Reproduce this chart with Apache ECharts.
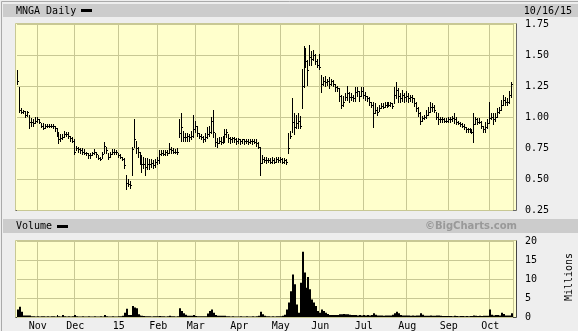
<!DOCTYPE html>
<html>
<head>
<meta charset="utf-8">
<script src="https://cdn.jsdelivr.net/npm/echarts@6/dist/echarts.min.js"></script>
<style>
html,body{margin:0;padding:0;background:#eeeeee;}
#chart{width:578px;height:331px;}
</style>
</head>
<body>
<div id="chart"></div>
<script>
// ---- calendar of trading days shown (category axis) ----
const startDate = '2014-10-20';
const endDate = '2015-10-16';
const holidays = ['2014-11-27','2014-12-25','2015-01-01','2015-01-19','2015-02-16',
                  '2015-04-03','2015-05-25','2015-07-03','2015-09-07'];
// tick labels indexed by month number (January shows the year)
const monthLabels = ['15','Feb','Mar','Apr','May','Jun','Jul','Aug','Sep','Oct','Nov','Dec'];
const priceTicks = [0.25, 0.50, 0.75, 1.00, 1.25, 1.50, 1.75];
const volumeTicks = [0, 5, 10, 15, 20];

// ---- daily prices (USD), one row per month ----
const high = [
  1.38,1.24,1.07,1.06,1.05,1.05,1.02,0.99,0.98,1.00,
  1.00,0.98,0.95,0.95,0.94,0.94,0.94,0.94,0.94,0.93,0.91,0.88,0.86,0.86,0.89,0.88,0.88,0.85,0.84,
  0.82,0.77,0.76,0.75,0.75,0.74,0.72,0.71,0.71,0.72,0.74,0.72,0.69,0.68,0.72,0.80,0.76,0.71,0.72,0.74,0.74,0.73,
  0.71,0.70,0.68,0.67,0.53,0.50,0.48,0.76,0.98,0.81,0.76,0.72,0.69,0.68,0.67,0.67,0.66,0.66,0.65,0.66,
  0.68,0.73,0.73,0.73,0.73,0.73,0.79,0.76,0.75,0.74,0.75,0.98,1.03,0.89,0.87,0.87,0.86,0.89,1.02,
  0.97,0.93,0.87,0.86,0.85,0.87,0.92,0.93,1.00,1.06,0.87,0.83,0.84,0.84,0.85,0.90,0.90,0.86,0.84,0.84,0.84,0.83,
  0.83,0.82,0.82,0.82,0.82,0.82,0.82,0.82,0.82,0.82,0.80,0.76,0.69,0.68,0.68,0.67,0.67,0.68,0.67,0.68,0.68,
  0.68,0.67,0.67,0.66,0.87,0.89,1.15,1.03,1.02,1.03,1.01,1.39,1.57,1.56,1.46,1.58,1.53,1.54,1.51,1.47,
  1.51,1.34,1.32,1.33,1.31,1.32,1.31,1.30,1.27,1.25,1.23,1.18,1.17,1.19,1.25,1.20,1.19,1.18,1.24,1.24,1.21,1.24,
  1.24,1.20,1.17,1.16,1.12,1.12,1.11,1.08,1.10,1.11,1.11,1.12,1.12,1.12,1.12,1.11,1.24,1.28,1.23,1.19,1.22,1.19,
  1.21,1.19,1.18,1.18,1.15,1.12,1.08,1.04,1.01,1.02,1.06,1.08,1.12,1.11,1.10,1.04,1.03,1.00,1.00,0.99,0.99,
  1.00,1.00,1.01,1.03,1.00,0.97,0.96,0.95,0.94,0.92,0.91,0.91,0.90,1.03,1.00,0.99,0.99,0.97,0.93,0.96,0.98,
  1.12,1.03,1.03,1.03,1.07,1.08,1.14,1.18,1.16,1.15,1.21,1.28
];
const low = [
  1.27,1.04,1.03,1.03,1.00,1.01,0.91,0.93,0.93,0.95,
  0.96,0.95,0.92,0.90,0.91,0.92,0.92,0.92,0.91,0.89,0.85,0.79,0.81,0.82,0.84,0.85,0.83,0.81,0.80,
  0.70,0.73,0.72,0.71,0.70,0.70,0.69,0.67,0.67,0.69,0.70,0.68,0.66,0.65,0.67,0.71,0.71,0.66,0.68,0.70,0.70,0.70,
  0.68,0.67,0.65,0.59,0.42,0.44,0.43,0.53,0.76,0.71,0.68,0.62,0.56,0.59,0.53,0.58,0.58,0.60,0.59,0.60,
  0.62,0.63,0.69,0.69,0.69,0.69,0.71,0.71,0.71,0.71,0.70,0.84,0.81,0.81,0.81,0.81,0.81,0.82,0.84,
  0.88,0.85,0.83,0.82,0.80,0.81,0.83,0.85,0.87,0.84,0.77,0.76,0.79,0.78,0.79,0.80,0.84,0.80,0.79,0.80,0.80,0.78,
  0.79,0.78,0.79,0.78,0.79,0.78,0.79,0.78,0.79,0.77,0.75,0.53,0.63,0.64,0.63,0.64,0.63,0.63,0.63,0.64,0.64,
  0.64,0.63,0.63,0.62,0.71,0.83,0.88,0.86,0.91,0.91,0.91,1.07,1.24,1.40,1.26,1.42,1.42,1.46,1.43,1.40,
  1.39,1.20,1.26,1.25,1.26,1.23,1.26,1.25,1.21,1.21,1.13,1.07,1.09,1.14,1.14,1.12,1.14,1.13,1.13,1.17,1.13,1.17,
  1.15,1.14,1.13,1.10,1.08,0.92,1.03,1.02,1.05,1.07,1.07,1.08,1.08,1.09,1.09,1.07,1.11,1.15,1.12,1.12,1.13,1.12,
  1.13,1.12,1.13,1.12,1.09,1.05,1.01,0.94,0.97,0.98,0.99,1.02,1.04,1.05,1.04,0.98,0.94,0.96,0.96,0.96,0.96,
  0.96,0.96,0.97,0.95,0.94,0.94,0.93,0.92,0.90,0.88,0.88,0.88,0.87,0.80,0.94,0.94,0.95,0.91,0.88,0.88,0.91,
  0.95,0.98,0.94,0.97,1.00,1.03,1.06,1.10,1.10,1.10,1.11,1.16
];
const close = [
  1.29,1.06,1.04,1.05,1.02,1.04,0.96,0.96,0.95,0.97,
  0.98,0.96,0.93,0.91,0.93,0.93,0.93,0.93,0.93,0.91,0.87,0.82,0.83,0.84,0.86,0.86,0.85,0.83,0.81,
  0.72,0.75,0.74,0.73,0.72,0.71,0.71,0.69,0.69,0.71,0.72,0.70,0.67,0.66,0.70,0.77,0.73,0.68,0.70,0.72,0.72,0.72,
  0.69,0.68,0.66,0.61,0.47,0.46,0.45,0.74,0.82,0.75,0.72,0.66,0.62,0.62,0.60,0.62,0.62,0.63,0.61,0.64,
  0.65,0.70,0.71,0.70,0.72,0.71,0.74,0.73,0.72,0.72,0.72,0.87,0.92,0.84,0.84,0.85,0.84,0.85,0.90,
  0.93,0.87,0.85,0.84,0.82,0.84,0.86,0.88,0.97,0.88,0.80,0.79,0.81,0.80,0.83,0.86,0.88,0.83,0.82,0.83,0.82,0.81,
  0.82,0.81,0.82,0.81,0.81,0.80,0.81,0.81,0.80,0.79,0.76,0.63,0.66,0.65,0.65,0.65,0.64,0.65,0.64,0.66,0.65,
  0.66,0.64,0.65,0.64,0.75,0.85,0.96,0.92,0.95,0.97,0.93,1.25,1.40,1.45,1.38,1.48,1.47,1.50,1.45,1.42,
  1.40,1.27,1.29,1.28,1.29,1.27,1.29,1.27,1.24,1.23,1.17,1.10,1.12,1.16,1.19,1.16,1.16,1.15,1.20,1.21,1.17,1.21,
  1.18,1.17,1.15,1.12,1.10,1.03,1.06,1.04,1.07,1.09,1.08,1.10,1.10,1.10,1.11,1.09,1.18,1.22,1.17,1.15,1.18,1.16,
  1.17,1.15,1.16,1.15,1.11,1.07,1.03,0.97,0.99,1.00,1.02,1.04,1.08,1.08,1.06,1.00,0.98,0.98,0.98,0.97,0.97,
  0.98,0.98,0.99,0.98,0.96,0.95,0.94,0.93,0.92,0.90,0.90,0.89,0.88,0.94,0.98,0.96,0.96,0.93,0.90,0.92,0.95,
  0.99,1.00,0.98,1.00,1.04,1.06,1.10,1.14,1.12,1.12,1.18,1.27
];
// ---- daily volume (millions of shares) ----
const volume = [
  2.0,2.7,1.4,0.4,0.4,0.4,0.4,0.2,0.2,0.15,
  0.2,0.15,0.2,0.2,0.15,0.2,0.15,0.2,0.2,0.15,0.5,0.2,0.15,0.5,0.2,0.15,0.2,0.15,0.2,
  0.5,0.2,0.15,0.15,0.2,0.15,0.15,0.2,0.15,0.15,0.2,0.15,0.15,0.2,0.15,0.5,0.2,0.15,0.15,0.2,0.15,0.15,
  0.2,0.2,0.3,1.1,2.2,0.5,0.5,2.9,2.5,2.3,0.7,0.4,0.3,0.25,0.2,0.2,0.2,0.15,0.2,0.2,
  0.2,0.25,0.2,0.2,0.15,0.2,0.3,0.2,0.2,0.15,0.2,2.3,1.6,1.0,0.6,0.3,0.3,0.3,0.5,
  0.25,0.2,0.2,0.2,0.2,0.2,0.9,1.6,2.0,1.1,0.5,0.3,0.3,0.3,0.3,0.3,0.2,0.2,0.15,0.2,0.15,0.15,
  0.15,0.2,0.15,0.15,0.2,0.15,0.15,0.2,0.15,0.2,0.3,1.4,0.7,0.3,0.2,0.2,0.15,0.2,0.15,0.2,0.2,
  0.2,0.3,0.6,2.0,3.8,6.8,11.2,8.6,3.3,1.1,9.0,17.2,11.7,7.7,10.5,7.3,4.6,3.8,2.9,1.6,
  1.1,2.0,1.6,1.1,0.8,0.5,0.5,0.5,0.5,0.5,0.7,0.7,0.8,0.7,0.7,0.6,0.5,0.5,0.5,0.4,0.5,0.4,
  0.5,0.4,0.5,0.4,0.5,1.0,0.6,0.4,0.4,0.4,0.3,0.4,0.4,0.4,0.4,0.6,1.0,1.4,1.0,0.5,0.4,0.4,
  0.4,0.4,0.3,0.4,0.3,0.4,0.4,1.0,0.6,0.3,0.3,0.3,0.4,0.3,0.3,0.4,0.4,0.3,0.25,0.25,0.25,
  0.25,0.25,0.2,0.3,0.25,0.2,0.25,0.25,0.2,0.25,0.2,0.25,0.25,0.4,0.3,0.25,0.3,0.25,0.3,0.3,0.3,
  2.0,0.6,0.4,0.5,0.5,0.4,1.1,0.8,0.4,0.4,0.4,1.0
];

// build the trading-day categories
const dates = [];
(function () {
  const d = new Date(startDate + 'T00:00:00Z');
  const end = new Date(endDate + 'T00:00:00Z');
  while (d <= end) {
    const s = d.toISOString().slice(0, 10);
    const wd = d.getUTCDay();
    if (wd !== 0 && wd !== 6 && holidays.indexOf(s) < 0) dates.push(s);
    d.setUTCDate(d.getUTCDate() + 1);
  }
})();
function monthOf(s) { return parseInt(String(s).slice(5, 7), 10) - 1; }
function isMonthStart(i) { return i > 0 && i < dates.length && monthOf(dates[i]) !== monthOf(dates[i - 1]); }

const bars = dates.map((d, i) => [i, high[i], low[i], close[i]]);
const vols = dates.map((d, i) => [i, volume[i]]);

const FONT = 'DejaVu Sans Mono';
const GRIDC = '#c8c894';
const YEL = '#ffffcc';
const L = 17, R = 578 - 513;

// month separator at the left edge of the first band of a month, spanning the axis range
function monthSep(api, xv, yLo, yHi) {
  const bw = api.size([1, 0])[0];
  const pLo = api.coord([xv, yLo]);
  const pHi = api.coord([xv, yHi]);
  const x = Math.round(pLo[0] - bw / 2) + 0.5;
  return { type: 'line', shape: { x1: x, y1: pHi[1], x2: x, y2: pLo[1] }, style: { stroke: GRIDC, lineWidth: 1 } };
}

function hlc(params, api) {
  const idx = params.dataIndex;
  const xv = api.value(0);
  const pH = api.coord([xv, api.value(1)]);
  const pL = api.coord([xv, api.value(2)]);
  const pC = api.coord([xv, api.value(3)]);
  const x = Math.round(pH[0]) - 0.5;
  const yc = Math.round(pC[1]) + 0.5;
  let y1 = Math.round(pH[1]), y2 = Math.round(pL[1]) + 1;
  if (y2 - y1 < 1) y2 = y1 + 1;
  const children = [];
  if (isMonthStart(idx)) children.push(monthSep(api, xv, priceTicks[0], priceTicks[priceTicks.length - 1]));
  children.push({ type: 'line', shape: { x1: x, y1: y1, x2: x, y2: y2 }, style: { stroke: '#000', lineWidth: 1 } });
  children.push({ type: 'line', shape: { x1: x, y1: yc, x2: x + 1.5, y2: yc }, style: { stroke: '#000', lineWidth: 1 } });
  return { type: 'group', children: children };
}

function volBar(params, api) {
  const idx = params.dataIndex;
  const xv = api.value(0);
  const bw = api.size([1, 0])[0];
  const pT = api.coord([xv, api.value(1)]);
  const pB = api.coord([xv, 0]);
  const x0 = Math.round(pT[0] - bw / 2), x1 = Math.round(pT[0] + bw / 2);
  const children = [];
  if (isMonthStart(idx)) children.push(monthSep(api, xv, volumeTicks[0], volumeTicks[volumeTicks.length - 1]));
  children.push({ type: 'rect', shape: { x: x0, y: pT[1], width: Math.max(1, x1 - x0), height: pB[1] - pT[1] }, style: { fill: '#000' } });
  return { type: 'group', children: children };
}

const chart = echarts.init(document.getElementById('chart'), null, { renderer: 'canvas' });
const option = {
  animation: false,
  backgroundColor: '#eeeeee',
  grid: [
    { left: L, right: R, top: 24, height: 186, show: true, backgroundColor: YEL, borderWidth: 0 },
    { left: L, right: R, top: 241, height: 76, show: true, backgroundColor: YEL, borderWidth: 0 }
  ],
  xAxis: [
    {
      type: 'category', gridIndex: 0, data: dates, boundaryGap: true,
      axisLine: { show: false }, axisTick: { show: false }, axisLabel: { show: false },
      splitLine: { show: true, interval: (i) => isMonthStart(i), lineStyle: { color: GRIDC, width: 1 } }
    },
    {
      type: 'category', gridIndex: 1, data: dates, boundaryGap: true,
      axisLine: { show: false }, axisTick: { show: false },
      axisLabel: {
        show: true, interval: (i) => isMonthStart(i), margin: 4,
        formatter: (v) => monthLabels[monthOf(v)],
        fontFamily: FONT, fontSize: 10, color: '#000'
      },
      splitLine: { show: true, interval: (i) => isMonthStart(i), lineStyle: { color: GRIDC, width: 1 } }
    }
  ],
  yAxis: [
    {
      type: 'value', gridIndex: 0, position: 'right',
      min: priceTicks[0], max: priceTicks[priceTicks.length - 1], interval: 0.25,
      axisLine: { show: false }, axisTick: { show: false },
      axisLabel: { margin: 12, formatter: (v) => v.toFixed(2), fontFamily: FONT, fontSize: 10, color: '#000' },
      splitLine: { show: true, lineStyle: { color: GRIDC, width: 1 } }
    },
    {
      type: 'value', gridIndex: 1, position: 'right',
      min: volumeTicks[0], max: volumeTicks[volumeTicks.length - 1], interval: 5,
      axisLine: { show: false }, axisTick: { show: false },
      axisLabel: { margin: 12, formatter: (v) => String(v), fontFamily: FONT, fontSize: 10, color: '#000' },
      splitLine: { show: true, lineStyle: { color: GRIDC, width: 1 } }
    }
  ],
  series: [
    {
      type: 'custom', xAxisIndex: 0, yAxisIndex: 0, data: bars, z: 3,
      encode: { x: 0, y: [1, 2, 3] }, renderItem: hlc, silent: true, clip: false
    },
    {
      type: 'custom', xAxisIndex: 1, yAxisIndex: 1, data: vols, z: 3,
      encode: { x: 0, y: 1 }, renderItem: volBar, silent: true, clip: false
    }
  ],
  graphic: [
    // outer frame
    { type: 'line', shape: { x1: 1.5, y1: 1.5, x2: 578, y2: 1.5 }, style: { stroke: '#aaaaaa', lineWidth: 1 } },
    { type: 'line', shape: { x1: 1.5, y1: 1.5, x2: 1.5, y2: 331 }, style: { stroke: '#aaaaaa', lineWidth: 1 } },
    // title bars
    { type: 'rect', shape: { x: 3, y: 4, width: 575, height: 13 }, style: { fill: '#cccccc' } },
    { type: 'rect', shape: { x: 3, y: 219, width: 575, height: 14 }, style: { fill: '#cccccc' } },
    // thin yellow margins around the plot grids
    { type: 'rect', shape: { x: 15, y: 23, width: 2, height: 188 }, style: { fill: YEL } },
    { type: 'rect', shape: { x: 513, y: 23, width: 4, height: 188 }, style: { fill: YEL } },
    { type: 'rect', shape: { x: 17, y: 23, width: 496, height: 1 }, style: { fill: YEL } },
    { type: 'rect', shape: { x: 15, y: 240, width: 2, height: 78 }, style: { fill: YEL } },
    { type: 'rect', shape: { x: 513, y: 240, width: 4, height: 78 }, style: { fill: YEL } },
    { type: 'rect', shape: { x: 17, y: 240, width: 496, height: 1 }, style: { fill: YEL } },
    // plot frames
    { type: 'polyline', shape: { points: [[15.5, 210.5], [15.5, 23.5], [516.5, 23.5]] }, style: { stroke: GRIDC, fill: null, lineWidth: 1 } },
    { type: 'polyline', shape: { points: [[15.5, 210.5], [516.5, 210.5], [516.5, 23.5]] }, style: { stroke: '#666666', fill: null, lineWidth: 1 } },
    { type: 'polyline', shape: { points: [[15.5, 317.5], [15.5, 240.5], [516.5, 240.5]] }, style: { stroke: GRIDC, fill: null, lineWidth: 1 } },
    { type: 'polyline', shape: { points: [[15.5, 317.5], [516.5, 317.5], [516.5, 240.5]] }, style: { stroke: '#444444', fill: null, lineWidth: 1 } },
    // texts in title bars
    { type: 'text', style: { x: 16, y: 11, text: 'MNGA Daily', font: '10px "DejaVu Sans Mono"', fill: '#000', verticalAlign: 'middle' } },
    { type: 'rect', shape: { x: 81, y: 9, width: 11, height: 3 }, style: { fill: '#000' } },
    { type: 'text', style: { x: 572, y: 11, text: '10/16/15', font: '10px "DejaVu Sans Mono"', fill: '#000', align: 'right', verticalAlign: 'middle' } },
    { type: 'text', style: { x: 16, y: 226.5, text: 'Volume', font: '10px "DejaVu Sans Mono"', fill: '#000', verticalAlign: 'middle' } },
    { type: 'rect', shape: { x: 57, y: 225, width: 11, height: 3 }, style: { fill: '#000' } },
    { type: 'text', style: { x: 517, y: 226.5, text: '©BigCharts.com', font: 'bold 10px "DejaVu Sans"', fill: '#999999', align: 'right', verticalAlign: 'middle' } },
    { type: 'text', x: 569, y: 277, rotation: Math.PI / 2, style: { x: 0, y: 0, text: 'Millions', font: '10px "DejaVu Sans Mono"', fill: '#000', align: 'center', verticalAlign: 'middle' } }
  ]
};
chart.setOption(option);
</script>
</body>
</html>
